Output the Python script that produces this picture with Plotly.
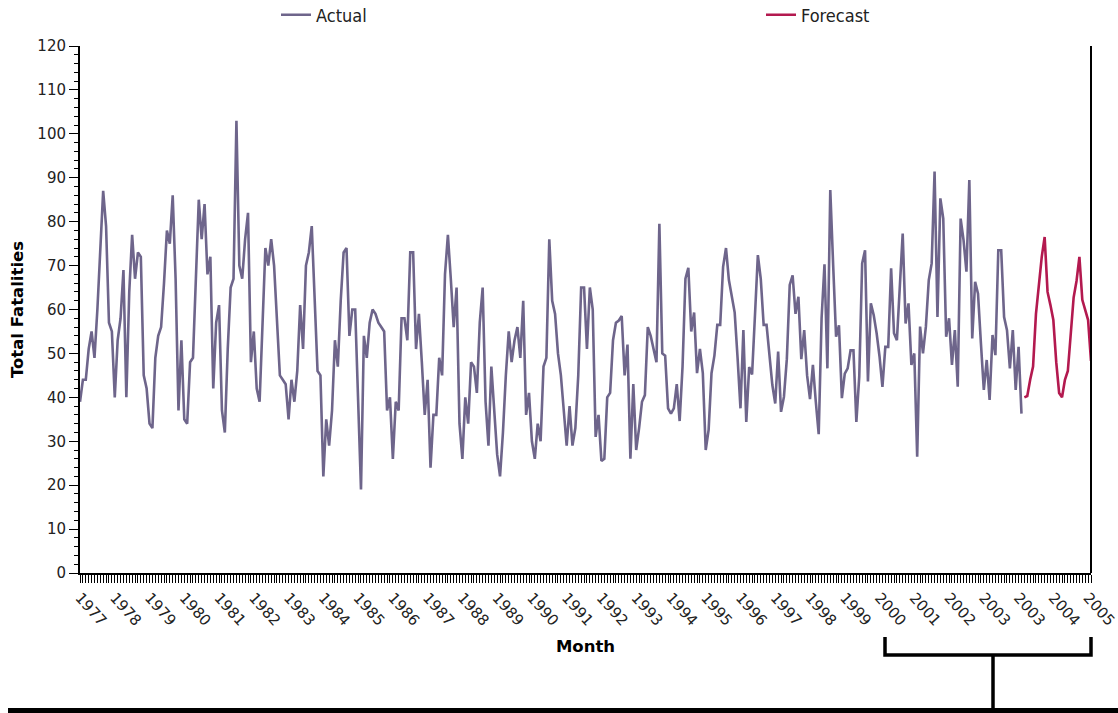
import plotly.graph_objects as go

# Monthly total fatalities, Jan 1977 onward (observed series)
actual = [
    39, 44, 44, 51, 55, 49, 60, 72, 87, 79, 57, 55,
    40, 53, 58, 69, 40, 64, 77, 67, 73, 72, 45, 42,
    34, 33, 49, 54, 56, 66, 78, 75, 86, 67, 37, 53,
    35, 34, 48, 49, 67, 85, 76, 84, 68, 72, 42, 57,
    61, 37, 32, 51, 65, 67, 103, 70, 67, 76, 82, 48,
    55, 42, 39, 58, 74, 70, 76, 70, 57, 45, 44, 43,
    35, 44, 39, 46, 61, 51, 70, 73, 79, 62, 46, 45,
    22, 35, 29, 37, 53, 47, 62, 73, 74, 54, 60, 60,
    40, 19, 54, 49, 57, 60, 59, 57, 56, 55, 37, 40,
    26, 39, 37, 58, 58, 53, 73, 73, 51, 59, 48, 36,
    44, 24, 36, 36, 49, 45, 68, 77, 67, 56, 65, 34,
    26, 40, 34, 48, 47, 41, 57, 65, 39, 29, 47, 37,
    27, 22, 32, 45, 55, 48, 53, 56, 49, 62, 36, 41,
    30, 26, 34, 30, 47, 49, 76, 62, 59, 50, 45, 37,
    29, 38, 29, 33, 45, 65, 65, 51, 65, 60, 31, 36,
    25.5, 26, 40, 41, 53, 57, 57.5, 58.5, 45, 52, 26, 43,
    28, 33, 39, 40.5, 56, 54, 51, 48, 79.5, 50, 49.5, 37.5,
    36.3, 37.5, 43, 34.6, 47, 67, 69.5, 55, 59.3, 45.5, 51, 45.5,
    28, 32.6, 45.5, 49.5, 56.5, 56.5, 69.7, 74, 66.7, 63.3, 59.3, 49,
    37.5, 55.3, 34.4, 46.9, 45.2, 58.7, 72.4, 67, 56.5, 56.5, 49.6, 42.8,
    38.6, 50.4, 36.7, 40.1, 48.7, 65.6, 67.8, 59, 62.9, 48.7, 55.3, 45,
    39.6, 47.4, 39, 31.6, 58, 70.3, 46.6, 87.2, 70, 53.8, 56.4, 39.8,
    45.4, 46.6, 50.7, 50.7, 34.4, 44.7, 70.5, 73.5, 43.6, 61.4, 58.7, 54.6,
    49.3, 42.4, 51.5, 51.5, 69.4, 54.6, 53, 65.2, 77.3, 56.8, 61.4, 47.4,
    50, 26.5, 56.1, 50, 56.1, 66.7, 70.5, 91.4, 58.3, 85.3, 80.7, 53.8,
    58, 47.4, 55.3, 42.4, 80.7, 75.8, 68.6, 89.5, 53.4, 66.3, 63.6, 52.3,
    41.7, 48.5, 39.4, 54.2, 49.6, 73.5, 73.5, 58.3, 55.3, 46.6, 55.3, 41.7,
    51.5, 36.3,
]

# Two-year monthly forecast following the observed series
forecast = [
    40, 40.3, 44, 47, 59, 66, 72, 76.5, 64, 61, 57.6, 48,
    41, 40, 44, 46, 55, 62.7, 66.5, 72, 62.2, 60, 57.6, 48.3,
]

year_labels = [
    "1977", "1978", "1979", "1980", "1981", "1982", "1983", "1984",
    "1985", "1986", "1987", "1988", "1989", "1990", "1991", "1992",
    "1993", "1994", "1995", "1996", "1997", "1998", "1999", "2000",
    "2001", "2002", "2003", "2003", "2004", "2005",
]

n_act = len(actual)
x_actual = list(range(n_act))
x_forecast = list(range(n_act, n_act + len(forecast)))
x_last = n_act + len(forecast) - 1
label_pos = [12 * i for i in range(len(year_labels))]

W, H = 1118, 713
ML, MR, MT, MB = 80, 27, 46, 140
PW, PH = W - ML - MR, H - MT - MB


def fx(px):
    return (px - ML) / PW


def fy(py):
    return (H - MB - py) / PH


legend_font = dict(family="DejaVu Sans Condensed, DejaVu Sans, sans-serif",
                   size=18, color="#222222")

fig = go.Figure()
fig.add_trace(go.Scatter(
    x=x_actual, y=actual, mode="lines", name="Actual", legend="legend",
    line=dict(color="#6e658b", width=2.6),
))
fig.add_trace(go.Scatter(
    x=x_forecast, y=forecast, mode="lines", name="Forecast", legend="legend2",
    line=dict(color="#b3194f", width=2.6),
))

tick_font = dict(family="DejaVu Sans", size=15, color="#222222")
title_font = dict(family="DejaVu Sans", size=16.5, color="#000000", weight="bold")

fig.update_layout(
    width=W, height=H,
    margin=dict(l=ML, r=MR, t=MT, b=MB, pad=0, autoexpand=False),
    paper_bgcolor="white", plot_bgcolor="white",
    showlegend=True,
    legend=dict(
        orientation="h", x=fx(276), y=fy(15), xanchor="left", yanchor="middle",
        font=legend_font, bgcolor="rgba(0,0,0,0)",
    ),
    legend2=dict(
        orientation="h", x=fx(761), y=fy(15), xanchor="left", yanchor="middle",
        font=legend_font, bgcolor="rgba(0,0,0,0)",
    ),
    xaxis=dict(
        range=[0, x_last], showgrid=False, zeroline=False,
        showline=True, linecolor="black", linewidth=2,
        tickmode="array", tickvals=label_pos, ticktext=year_labels,
        tickangle=48, ticks="outside", ticklen=8, tickwidth=1, tickcolor="black",
        tickfont=tick_font, ticklabeloverflow="allow",
        minor=dict(tickmode="linear", tick0=0, dtick=1, ticks="outside",
                   ticklen=8, tickwidth=1, tickcolor="black"),
        title=dict(text="Month", font=title_font, standoff=12),
    ),
    yaxis=dict(
        range=[0, 120], showgrid=False, zeroline=False,
        showline=True, linecolor="black", linewidth=2,
        tickmode="linear", tick0=0, dtick=10,
        ticks="outside", ticklen=9, tickwidth=1, tickcolor="black",
        tickfont=tick_font,
        minor=dict(tickmode="linear", tick0=0, dtick=2, ticks="outside",
                   ticklen=4, tickwidth=1, tickcolor="black"),
        title=dict(text="Total Fatalities", font=title_font, standoff=10),
    ),
    shapes=[
        # right frame edge
        dict(type="line", xref="paper", yref="paper", x0=1, x1=1, y0=0, y1=1,
             line=dict(color="black", width=2)),
        # bracket under the last years
        dict(type="path", xref="paper", yref="paper",
             path=(f"M{fx(885)},{fy(637)} L{fx(885)},{fy(655)} "
                   f"L{fx(1091)},{fy(655)} L{fx(1091)},{fy(637)}"),
             line=dict(color="black", width=3.5)),
        dict(type="line", xref="paper", yref="paper",
             x0=fx(993), x1=fx(993), y0=fy(655), y1=fy(709),
             line=dict(color="black", width=3.5)),
        # base rule
        dict(type="line", xref="paper", yref="paper",
             x0=fx(8), x1=fx(1118), y0=fy(710.5), y1=fy(710.5),
             line=dict(color="black", width=5)),
    ],
)

fig.write_html("out.html")
